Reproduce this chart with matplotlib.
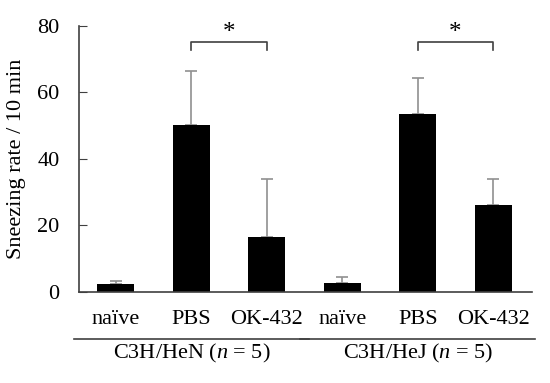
import numpy as np
import matplotlib.pyplot as plt

plt.rcParams['font.family'] = ['Liberation Serif', 'DejaVu Serif']
plt.rcParams['mathtext.fontset'] = 'custom'
plt.rcParams['mathtext.rm'] = 'Liberation Serif'
plt.rcParams['mathtext.it'] = 'Liberation Serif:italic'

labels = ["naïve", "PBS", "OK-432", "naïve", "PBS", "OK-432"]
means = [2.3, 50.1, 16.5, 2.5, 53.4, 26.2]
sds = [0.9, 16.4, 17.3, 1.8, 11.0, 7.6]
groups = ["C3H/HeN", "C3H/HeJ"]
n_mice = 5
sig_pairs = [(1, 2), (4, 5)]

axis_col = "#404040"
err_col = "#909090"
fs = 16

fig = plt.figure(figsize=(5.5, 3.83), dpi=100)
ax = fig.add_axes([79 / 550, 1 - 291.7 / 383, (531.7 - 79) / 550, (291.7 - 26) / 383])

x = np.arange(len(means))
ax.bar(x, means, width=0.49, color="black", zorder=2)
ax.errorbar(x, means, yerr=[np.zeros(len(sds)), sds], fmt="none",
            ecolor=err_col, elinewidth=1.2, capsize=4, capthick=1.2, zorder=1)

ax.set_xlim(-0.49, 5.51)
ax.set_ylim(0, 80)
ax.set_yticks([0, 20, 40, 60, 80])
ax.set_xticks(x)
ax.set_xticklabels(labels, fontsize=fs)
ax.tick_params(axis="x", length=0, pad=13)
ax.tick_params(axis="y", direction="in", length=6, color=axis_col, labelsize=fs, pad=14)
for s in ["top", "right"]:
    ax.spines[s].set_visible(False)
for s in ["left", "bottom"]:
    ax.spines[s].set_color(axis_col)
    ax.spines[s].set_linewidth(1.2)
ax.set_ylabel("Sneezing rate / 10 min", fontsize=fs, labelpad=8)

# significance brackets
for a, b in sig_pairs:
    ax.plot([a, a, b, b], [72.8, 75.3, 75.3, 72.8], color=axis_col, lw=1.2,
            clip_on=False)
    ax.text((a + b) / 2, 74.6, "*", ha="center", va="bottom", fontsize=18)

# group lines and labels below the axis
for i, g in enumerate(groups):
    x0 = 3 * i - 0.56
    x1 = 3 * i + 2.56
    ax.plot([x0, x1], [-14.3, -14.3], color=axis_col, lw=1.2, clip_on=False)
    ax.text(3 * i + 1, -18.6, f"{g} ($\\it{{n}}$ = {n_mice})", ha="center",
            va="center", fontsize=fs)

fig.savefig("out.png")
